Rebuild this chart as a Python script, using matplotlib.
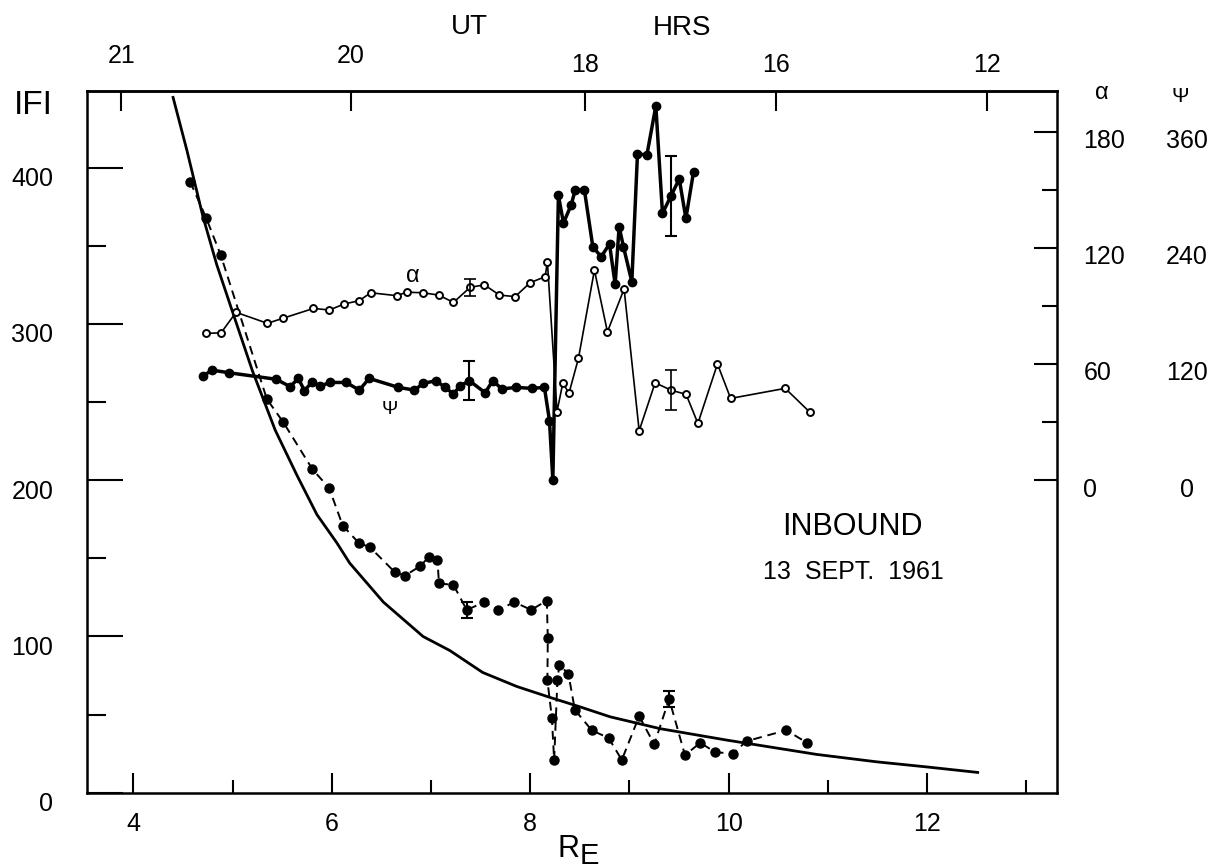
import numpy as np
import matplotlib.pyplot as plt
from matplotlib import transforms

plt.rcParams['font.family'] = ['Liberation Sans', 'DejaVu Sans']

# model field curve (solid line)
curve_re = [4.40, 4.54, 4.70, 4.84, 5.03, 5.20, 5.43, 5.65, 5.85, 6.05, 6.18, 6.52, 6.92,
            7.19, 7.52, 7.865, 8.20, 8.50, 8.805, 9.31, 9.98, 10.89, 11.49, 12.0, 12.51]
curve_f = [445, 411, 369, 338, 302, 270, 232, 203, 178, 160, 147, 122, 100,
           91, 77, 68, 61, 55, 48.6, 41, 33.7, 24.5, 19.8, 16.5, 13]

# measured |F| (dashed line, filled dots)
f_re = [4.573, 4.733, 4.881, 5.345, 5.512, 5.805, 5.973, 6.11, 6.27, 6.386, 6.638, 6.739,
        6.89, 6.98, 7.065, 7.08, 7.226, 7.36, 7.538, 7.68, 7.84, 8.01, 8.167, 8.177,
        8.173, 8.218, 8.241, 8.274, 8.294, 8.385, 8.45, 8.62, 8.79, 8.923, 9.098, 9.25,
        9.40, 9.56, 9.713, 9.864, 10.04, 10.18, 10.58, 10.79]
f_val = [391, 368, 344, 252, 237, 207, 195, 171, 160, 157, 141, 139,
         145, 151, 149, 134, 133, 117, 122, 117, 122, 117, 123, 99,
         72, 48, 21, 72, 82, 76, 53, 40, 35, 21, 49, 31,
         60, 24, 32, 26, 25, 33, 40, 32]
f_err_re = [7.36, 9.40]
f_err_val = [117, 60]
f_err = [5, 5]

# alpha (open circles), degrees
alpha_re = [4.733, 4.884, 5.035, 5.351, 5.506, 5.815, 5.976, 6.124, 6.275, 6.393, 6.655, 6.756,
            6.917, 7.078, 7.226, 7.394, 7.538, 7.69, 7.848, 7.999, 8.150, 8.173, 8.27, 8.329,
            8.39, 8.486, 8.647, 8.778, 8.946, 9.098, 9.259, 9.417, 9.571, 9.69, 9.887, 10.02,
            10.57, 10.82]
alpha_deg = [75.8, 76.1, 86.7, 81.0, 83.6, 88.7, 87.9, 91.0, 92.7, 96.8, 95.3, 97.1,
             96.8, 95.6, 91.8, 99.6, 100.9, 95.6, 94.8, 102.0, 105.1, 112.8, 35.4, 50.3,
             44.8, 62.9, 108.5, 76.6, 98.8, 25.5, 50.3, 46.5, 44.3, 29.3, 60.0, 42.2,
             47.4, 35.0]
alpha_err_re = [7.394, 9.417]
alpha_err_val = [99.6, 46.5]
alpha_err = [4.3, 10.3]

# psi (filled dots, heavy line), degrees
psi_re = [4.706, 4.79, 4.965, 5.439, 5.58, 5.663, 5.724, 5.804, 5.882, 5.983, 6.144, 6.278,
          6.376, 6.671, 6.833, 6.923, 7.051, 7.142, 7.226, 7.293, 7.387, 7.545, 7.623, 7.714,
          7.858, 8.016, 8.143, 8.194, 8.228, 8.284, 8.335, 8.412, 8.453, 8.546, 8.631, 8.715,
          8.799, 8.856, 8.896, 8.940, 9.024, 9.081, 9.176, 9.266, 9.333, 9.418, 9.502, 9.569,
          9.646]
psi_deg = [107.6, 113.7, 110.9, 104.2, 96.6, 105.1, 92.4, 101.7, 97.2, 100.9, 100.9, 93.0,
           105.1, 95.8, 93.0, 100.0, 102.7, 95.8, 89.0, 97.2, 102.7, 90.3, 102.7, 94.2,
           95.8, 94.8, 95.8, 61.4, 0.0, 294.3, 265.7, 284.2, 299.7, 299.7, 241.1, 230.8,
           244.0, 202.4, 261.8, 241.1, 204.9, 337.1, 336.1, 386.6, 275.7, 293.6, 311.2, 270.5,
           318.6]
psi_err_re = [7.387, 9.418]
psi_err_val = [102.7, 293.6]
psi_err = [20, 41]

# UT hours on the top axis, placed at their R_E
ut_re = [3.88, 6.19, 8.55, 10.48, 12.6]
ut_labels = ['21', '20', '18', '16', '12']

re_ticks = [4, 6, 8, 10, 12]
re_minor = [5, 7, 9, 11, 13]
f_ticks = [0, 100, 200, 300, 400]
f_minor = [50, 150, 250, 350]
alpha_ticks = [0, 60, 120, 180]
alpha_minor = [30, 90, 150]
psi_ticks = [0, 120, 240, 360]

# alpha scale vs |F| scale on the plot
IFI_AT_ALPHA0 = 200.1
ALPHA_PER_IFI = 0.8075

fig = plt.figure(figsize=(12.15, 8.68), dpi=100)
ax = fig.add_axes([0.0714, 0.0867, 0.7986, 0.8090])
ax.set_xlim(3.53, 13.31)
ax.set_ylim(0, 449.4)

ax.plot(curve_re, curve_f, color='black', lw=2.0)
ax.plot(f_re, f_val, color='black', lw=1.4, dashes=(4.5, 3), marker='o', ms=6.5)
ax.errorbar(f_err_re, f_err_val, yerr=f_err, fmt='none', ecolor='black',
            elinewidth=1.5, capsize=4, capthick=1.5)

ax.set_xticks(re_ticks)
ax.set_xticks(re_minor, minor=True)
ax.set_yticks(f_ticks)
ax.set_yticks(f_minor, minor=True)
ax.tick_params(axis='x', which='major', direction='in', length=14.4, width=1.5, pad=13.7, labelsize=18)
ax.tick_params(axis='x', which='minor', direction='in', length=9.4, width=1.5)
ax.tick_params(axis='y', which='major', direction='in', length=26, width=1.5, pad=24, labelsize=18)
ax.tick_params(axis='y', which='minor', direction='in', length=13.7, width=1.5)
for s in ax.spines.values():
    s.set_linewidth(1.8)

off_l = transforms.ScaledTranslation(0, -9 / 100, fig.dpi_scale_trans)
for lab in ax.get_yticklabels():
    lab.set_transform(lab.get_transform() + off_l)

# right axis: alpha (and psi = 2 alpha)
ax2 = ax.twinx()
lo, hi = ax.get_ylim()
ax2.set_ylim((lo - IFI_AT_ALPHA0) * ALPHA_PER_IFI, (hi - IFI_AT_ALPHA0) * ALPHA_PER_IFI)
ax2.set_yticks(alpha_ticks)
ax2.set_yticks(alpha_minor, minor=True)
ax2.tick_params(axis='y', which='major', direction='in', length=16.5, width=1.5, pad=19, labelsize=18)
ax2.tick_params(axis='y', which='minor', direction='in', length=11, width=1.5)
for s in ax2.spines.values():
    s.set_visible(False)

off_r = transforms.ScaledTranslation(0, -7 / 100, fig.dpi_scale_trans)
for lab in ax2.get_yticklabels():
    lab.set_transform(lab.get_transform() + off_r)
col = transforms.blended_transform_factory(fig.transFigure, ax2.transData) + off_r
for a, p in zip(alpha_ticks, psi_ticks):
    ax2.text(1187 / 1215, a, str(p), transform=col, ha='center', va='center_baseline', fontsize=18)

ax2.plot(psi_re, np.array(psi_deg) / 2, color='black', lw=2.5, marker='o', ms=6)
ax2.errorbar(psi_err_re, np.array(psi_err_val) / 2, yerr=np.array(psi_err) / 2, fmt='none',
             ecolor='black', elinewidth=1.5, capsize=4, capthick=1.5)
ax2.plot(alpha_re, alpha_deg, color='black', lw=1.2, marker='o', ms=5, mfc='white', mew=1.4)
ax2.errorbar(alpha_err_re, alpha_err_val, yerr=alpha_err, fmt='none', ecolor='black',
             elinewidth=1.2, capsize=4, capthick=1.2)

# top axis: UT hours
top = ax.secondary_xaxis('top')
top.set_ticks(ut_re, labels=ut_labels)
top.tick_params(direction='in', length=14.4, width=1.5, pad=9.7, labelsize=18)
top.spines['top'].set_linewidth(1.8)
off_t = transforms.ScaledTranslation(0, 9 / 100, fig.dpi_scale_trans)
for lab in top.get_xticklabels()[:2]:
    lab.set_transform(lab.get_transform() + off_t)

ax.text(6.82, 330.7, 'α', ha='center', va='center', fontsize=17)
ax.text(6.58, 245.4, 'Ψ', ha='center', va='center', fontsize=14)
ax.text(11.245, 170, 'INBOUND', ha='center', va='center', fontsize=22)
ax.text(11.26, 141, '13  SEPT.  1961', ha='center', va='center', fontsize=18)

fig.text(469 / 1215, 1 - 27 / 868, 'UT', ha='center', va='center', fontsize=20)
fig.text(682 / 1215, 1 - 28 / 868, 'HRS', ha='center', va='center', fontsize=20)
fig.text(33 / 1215, 1 - 105 / 868, 'IFI', ha='center', va='center', fontsize=24)
fig.text(1102 / 1215, 1 - 93 / 868, 'α', ha='center', va='center', fontsize=17)
fig.text(1180 / 1215, 1 - 96 / 868, 'Ψ', ha='center', va='center', fontsize=15)
fig.text(569 / 1215, 1 - 849 / 868, 'R', ha='center', va='center', fontsize=22)
fig.text(589 / 1215, 1 - 856 / 868, 'E', ha='center', va='center', fontsize=21)

fig.savefig('out.png', dpi=100)
